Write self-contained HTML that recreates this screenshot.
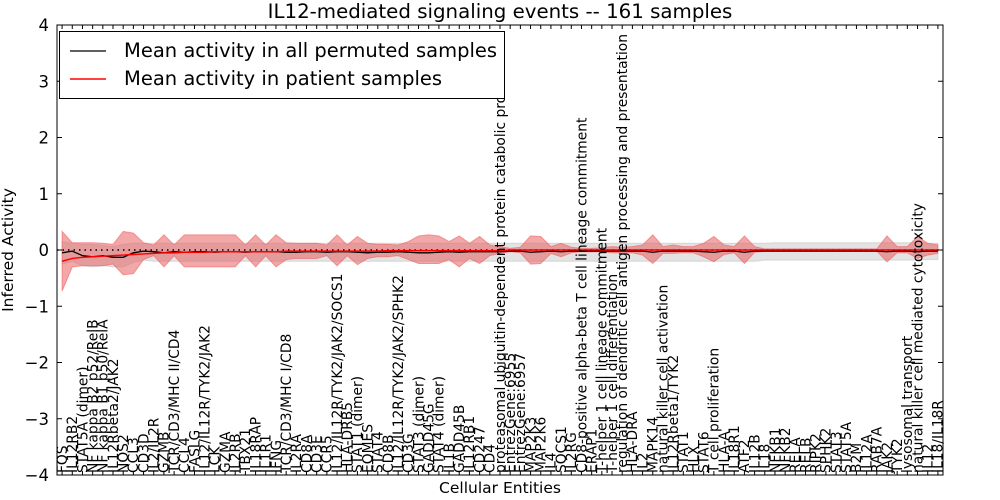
<!DOCTYPE html>
<html><head><meta charset="utf-8"><style>
body{margin:0;background:#fff;}
svg{display:block;font-family:"DejaVu Sans","Liberation Sans",sans-serif;}
</style></head><body>
<svg id="chart" width="1000" height="500"></svg>
<script>
const categories=["FOS","IL12RB2","STAT5A (dimer)","NF kappa B2 p52/RelB","NF kappa B1 p50/RelA","IL12Rbeta2/JAK2","NOS2","CCL3","CD3D","IL2/IL2R","GZMB","TCR/CD3/MHC II/CD4","CCL4","FASLG","IL12/IL12R/TYK2/JAK2","LCK","GZMA","IL2RB","TBX21","IL18RAP","IL1R1","IFNG","TCR/CD3/MHC I/CD8","IL2RA","CD8A","CD3E","CCR5","IL12/IL12R/TYK2/JAK2/SOCS1","HLA-DRB5","STAT1 (dimer)","EOMES","STAT4","CD8B","IL12/IL12R/TYK2/JAK2/SPHK2","CD3G","STAT3 (dimer)","GADD45G","STAT4 (dimer)","IL1B","GADD45B","IL12RB1","CD247","CD4","proteasomal ubiquitin-dependent protein catabolic process","EntrezGene:6955","EntrezGene:6957","MAP2K3","MAP2K6","IL4","SOCS1","IL2RG","CD8-positive alpha-beta T cell lineage commitment","ERAP1","T-helper 1 cell lineage commitment","T-helper 1 cell differentiation","regulation of dendritic cell antigen processing and presentation","HLA-DRA","IL2","MAPK14","natural killer cell activation","IL12Rbeta1/TYK2","STAT1","HLX","STAT6","T cell proliferation","HLA-A","IL18R1","ATF2","IL12B","IL18","NFKB1","NFKB2","RELA","RELB","RIPK2","SPHK2","STAT3","STAT5A","B2M","IL12A","RAB7A","JAK2","TYK2","lysosomal transport","natural killer cell mediated cytotoxicity","IL12","IL18/IL18R"];
const redUp=[.33,.13,.13,.13,.12,.1,.33,.3,.13,.09,.27,.09,.27,.27,.27,.27,.27,.27,.09,.27,.09,.27,.13,.12,.12,.12,.09,.27,.09,.24,.12,.1,.1,.09,.15,.25,.27,.25,.15,.25,.12,.24,.09,.06,.03,.05,.25,.24,.06,.12,.05,.03,.03,.04,.06,.05,.06,.09,.27,.06,.09,.06,.06,.12,.24,.09,.06,.25,.06,.02,.02,.02,.02,.02,.02,.02,.02,.02,.02,.02,.02,.25,.06,.06,.24,.12,.09];
const redLo=[-.73,-.3,-.28,-.28,-.28,-.25,-.44,-.42,-.17,-.1,-.3,-.1,-.3,-.3,-.3,-.3,-.3,-.3,-.1,-.3,-.1,-.3,-.17,-.15,-.15,-.15,-.1,-.28,-.1,-.26,-.15,-.12,-.12,-.1,-.17,-.24,-.24,-.24,-.17,-.3,-.15,-.24,-.1,-.06,-.03,-.05,-.25,-.24,-.06,-.12,-.05,-.03,-.03,-.03,-.05,-.05,-.05,-.09,-.24,-.06,-.06,-.05,-.05,-.12,-.21,-.08,-.05,-.24,-.04,-.02,-.02,-.02,-.02,-.02,-.02,-.02,-.02,-.02,-.02,-.02,-.02,-.21,-.05,-.05,-.15,-.09,-.06];
const greyUp=[.15,.12,.1,.1,.08,.06,.1,.12,.12,.12,.12,.12,.12,.12,.12,.12,.12,.12,.12,.12,.12,.12,.12,.12,.12,.12,.12,.12,.12,.12,.12,.12,.12,.12,.12,.12,.12,.12,.12,.12,.12,.12,.12,.12,.12,.12,.12,.12,.12,.12,.12,.12,.12,.12,.12,.12,.12,.12,.12,.12,.12,.12,.12,.12,.12,.12,.12,.12,.12,.12,.13,.13,.13,.13,.13,.13,.13,.13,.13,.13,.13,.13,.13,.13,.13,.12,.12];
const greyLo=[-.25,-.2,-.28,-.3,-.28,-.3,-.3,-.22,-.18,-.2,-.2,-.2,-.2,-.2,-.2,-.2,-.2,-.2,-.2,-.2,-.2,-.2,-.2,-.2,-.2,-.2,-.2,-.2,-.2,-.2,-.2,-.2,-.2,-.2,-.2,-.2,-.2,-.2,-.2,-.2,-.2,-.2,-.2,-.2,-.2,-.2,-.2,-.2,-.2,-.2,-.2,-.2,-.2,-.2,-.2,-.2,-.2,-.2,-.2,-.2,-.2,-.2,-.2,-.2,-.2,-.2,-.2,-.2,-.2,-.18,-.18,-.18,-.18,-.18,-.18,-.18,-.18,-.18,-.18,-.18,-.18,-.18,-.18,-.18,-.18,-.17,-.17];
const blackMean=[-.05,-.02,-.1,-.12,-.1,-.13,-.13,-.05,-.02,-.03,-.05,-.03,-.04,-.03,-.03,-.04,-.03,-.03,-.04,-.03,-.03,-.03,-.04,-.04,-.03,-.03,-.04,-.03,-.03,-.04,-.05,-.04,-.04,-.03,-.04,-.05,-.05,-.04,-.03,-.04,-.03,-.03,-.03,-.03,-.02,-.02,-.04,-.03,-.02,-.03,-.02,-.02,-.02,-.02,-.02,-.02,-.02,-.02,-.04,-.02,-.02,-.02,-.02,-.03,-.04,-.02,-.02,-.04,-.02,-.02,-.02,-.02,-.02,-.02,-.02,-.02,-.02,-.02,-.02,-.02,-.02,-.03,-.02,-.02,-.03,-.02,-.02];
const redMean=[-.2,-.15,-.13,-.12,-.11,-.1,-.09,-.08,-.07,-.06,-.05,-.05,-.04,-.04,-.04,-.03,-.03,-.03,-.03,-.03,-.03,-.03,-.02,-.02,-.02,-.02,-.02,-.02,-.02,-.02,-.02,-.02,-.01,-.01,-.01,-.01,-.01,-.01,-.01,-.01,-.01,-.01,-.01,-.01,0,0,0,0,0,0,0,0,0,0,0,0,0,0,0,0,0,0,0,0,0,0,0,0,0,0,0,0,0,0,0,0,0,0,0,0,0,0,0,0,0,0,0];
const yTicks=[-4,-3,-2,-1,0,1,2,3,4];

const NS="http://www.w3.org/2000/svg";
const svg=document.getElementById('chart');
const L=57,R=943,T=25,B=475;
const n=categories.length;
function xs(i){return L+(i+0.5)*(R-L)/n;}
function ys(v){return B-(v+4)/8*(B-T);}
function mk(tag,attrs,parent){const e=document.createElementNS(NS,tag);for(const k in attrs)e.setAttribute(k,attrs[k]);(parent||svg).appendChild(e);return e;}
function band(up,lo){let d='M'+xs(0)+','+ys(up[0]);for(let i=1;i<n;i++)d+='L'+xs(i)+','+ys(up[i]);for(let i=n-1;i>=0;i--)d+='L'+xs(i)+','+ys(lo[i]);return d+'Z';}
function line(v){let d='';for(let i=0;i<n;i++)d+=(i?'L':'M')+xs(i)+','+ys(v[i]);return d;}

const g1=mk('path',{d:band(greyUp,greyLo),fill:'#c8c8c8','fill-opacity':'0.5',stroke:'#b0b0b0','stroke-opacity':'0.4'});


const g2=mk('path',{d:band(redUp,redLo),fill:'#e86060','fill-opacity':'0.55',stroke:'#f06060','stroke-opacity':'0.6'});


const zl=mk('line',{x1:L,x2:R,y1:ys(0),y2:ys(0),stroke:'#000','stroke-dasharray':'1.5,4','stroke-width':1.5});


const bl=mk('path',{d:line(blackMean),fill:'none',stroke:'#000','stroke-width':1.3});


const rl=mk('path',{d:line(redMean),fill:'none',stroke:'#f00','stroke-width':1.5});



for(let i=0;i<n;i++){
  const x=xs(i);
  mk('line',{x1:x,x2:x,y1:B,y2:B-4,stroke:'#000'});
  mk('line',{x1:x,x2:x,y1:T,y2:T+4,stroke:'#000'});
  const t=mk('text',{x:0,y:0,transform:'translate('+(x+4.8)+','+(B-2)+') rotate(-90)','font-size':'13.8',fill:'#000'});
  t.textContent=categories[i];
  
  
}
yTicks.forEach(v=>{
  const y=ys(v);
  mk('line',{x1:L,x2:L+5,y1:y,y2:y,stroke:'#000'});
  mk('line',{x1:R,x2:R-5,y1:y,y2:y,stroke:'#000'});
  const t=mk('text',{x:L-8,y:y+6,'text-anchor':'end','font-size':'16.5',fill:'#000'});
  t.textContent=(v<0?'\u2212'+(-v):''+v);
  
  
});
const fr=mk('rect',{x:L,y:T,width:R-L,height:B-T,fill:'none',stroke:'#000','stroke-width':1});



const lg=mk('g',{});


mk('rect',{x:59.5,y:31.5,width:445,height:67,fill:'#fff',stroke:'#000'},lg);
mk('line',{x1:70,x2:106,y1:51,y2:51,stroke:'#000','stroke-width':1.3},lg);
mk('line',{x1:70,x2:106,y1:79,y2:79,stroke:'#f00','stroke-width':1.5},lg);
const l1=mk('text',{x:124,y:57,'font-size':'19.5'},lg);l1.textContent='Mean activity in all permuted samples';


const l2=mk('text',{x:124,y:85,'font-size':'19.5'},lg);l2.textContent='Mean activity in patient samples';



const tt=mk('text',{x:500,y:18,'text-anchor':'middle','font-size':'19.8'});tt.textContent='IL12-mediated signaling events -- 161 samples';


const xt=mk('text',{x:500,y:493,'text-anchor':'middle','font-size':'15.5'});xt.textContent='Cellular Entities';


const yt=mk('text',{x:0,y:0,transform:'translate(13,250) rotate(-90)','text-anchor':'middle','font-size':'15.5'});yt.textContent='Inferred Activity';


</script>
</body></html>
